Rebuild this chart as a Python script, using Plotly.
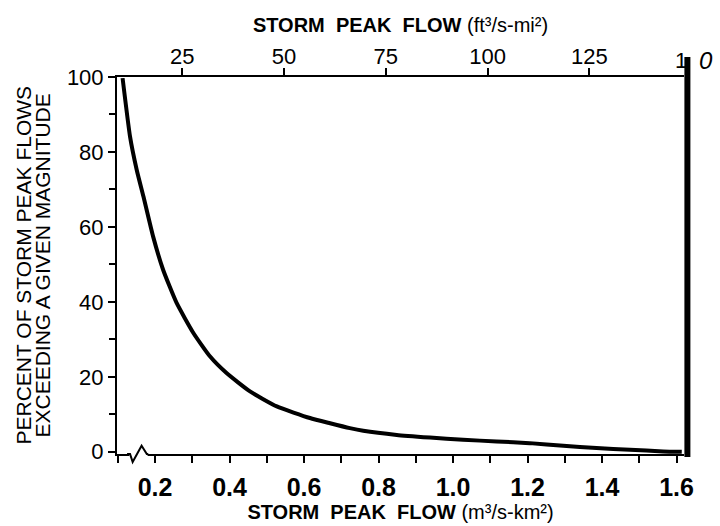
import plotly.graph_objects as go

# ---- data ----
flow_m3 = [0.113, 0.133, 0.151, 0.169, 0.195, 0.222, 0.258, 0.303, 0.348, 0.392,
           0.455, 0.527, 0.616, 0.670, 0.723, 0.759, 0.849, 0.938, 1.027, 1.117,
           1.206, 1.296, 1.385, 1.475, 1.564, 1.614]
percent = [99.7, 84.1, 75.2, 68.1, 57.4, 48.5, 39.7, 31.7, 25.4, 21.0,
           16.1, 12.1, 9.0, 7.6, 6.3, 5.6, 4.5, 3.8, 3.2, 2.75,
           2.3, 1.6, 1.0, 0.53, 0.1, 0.0]
bottom_ticks = [0.2, 0.4, 0.6, 0.8, 1.0, 1.2, 1.4, 1.6]
bottom_ticktext = ["0.2", "0.4", "0.6", "0.8", "1.0", "1.2", "1.4", "1.6"]
top_ticks = [25, 50, 75, 100, 125]
y_ticks = [0, 20, 40, 60, 80, 100]
CFSM_TO_M3KM2 = 0.010926  # 1 ft3/s-mi2 in m3/s-km2

FONT = "Liberation Sans, Arial, sans-serif"
NB = "\u00a0"

fig = go.Figure()
fig.add_trace(go.Scatter(
    x=flow_m3, y=percent, mode="lines",
    line=dict(color="black", width=4, shape="spline", smoothing=0.5),
    hoverinfo="skip", showlegend=False))
# same curve expressed in ft3/s-mi2 to carry the top axis (invisible)
fig.add_trace(go.Scatter(
    x=[v / CFSM_TO_M3KM2 for v in flow_m3], y=percent, xaxis="x2",
    mode="lines", line=dict(color="rgba(0,0,0,0)", width=0),
    hoverinfo="skip", showlegend=False))

x_range = [0.098, 1.620]
fig.update_layout(
    width=720, height=526,
    margin=dict(l=117, r=36, t=77, b=72, autoexpand=False),
    paper_bgcolor="white", plot_bgcolor="white",
    font=dict(family=FONT, color="black"),
    xaxis=dict(
        range=x_range, showgrid=False, zeroline=False, automargin=False,
        showline=True, linecolor="black", linewidth=2,
        tickmode="array", tickvals=bottom_ticks, ticktext=bottom_ticktext,
        ticks="outside", ticklen=7, tickwidth=2, tickcolor="black",
        minor=dict(dtick=0.1, tick0=0, ticks="outside", ticklen=7,
                   tickwidth=2, tickcolor="black"),
        tickfont=dict(size=25, family=FONT, weight="bold"),
        ticklabelstandoff=3,
        title=dict(text="<b>STORM" + NB + NB + "PEAK" + NB + NB + "FLOW</b> (m³/s-km²)",
                   font=dict(size=20, family=FONT), standoff=4),
    ),
    xaxis2=dict(
        overlaying="x", side="top", automargin=False,
        range=[x_range[0] / CFSM_TO_M3KM2, x_range[1] / CFSM_TO_M3KM2],
        showgrid=False, zeroline=False,
        showline=True, linecolor="black", linewidth=2,
        tickmode="array", tickvals=top_ticks,
        ticks="outside", ticklen=7, tickwidth=2, tickcolor="black",
        tickfont=dict(size=22, family=FONT),
        ticklabelstandoff=-5,
        title=dict(text="<b>STORM" + NB + NB + "PEAK" + NB + NB + "FLOW</b> (ft³/s-mi²)",
                   font=dict(size=20, family=FONT), standoff=6),
    ),
    yaxis=dict(
        range=[-0.6, 100], showgrid=False, zeroline=False, automargin=False,
        showline=True, linecolor="black", linewidth=2,
        tickmode="array", tickvals=y_ticks,
        ticks="outside", ticklen=7, tickwidth=2, tickcolor="black",
        minor=dict(dtick=10, tick0=0, ticks="outside", ticklen=6,
                   tickwidth=2, tickcolor="black"),
        tickfont=dict(size=22, family=FONT),
        ticklabelstandoff=0,
    ),
)

# y-axis title, two tightly spaced rotated lines
fig.add_annotation(text="PERCENT OF STORM PEAK FLOWS", xref="paper", yref="paper",
                   x=(23 - 117) / 567, y=0.50, xanchor="center", yanchor="middle",
                   textangle=-90, showarrow=False, font=dict(size=21, family=FONT))
fig.add_annotation(text="EXCEEDING A GIVEN MAGNITUDE", xref="paper", yref="paper",
                   x=(42 - 117) / 567, y=0.50, xanchor="center", yanchor="middle",
                   textangle=-90, showarrow=False, font=dict(size=21, family=FONT))

# partially hidden "150" label of the top axis
fig.add_annotation(text="1", xref="paper", yref="paper", x=0.994, y=1.045,
                   xanchor="center", yanchor="middle", showarrow=False,
                   font=dict(size=22, family=FONT))
fig.add_annotation(text="<i>0</i>", xref="paper", yref="paper", x=1.038, y=1.045,
                   xanchor="center", yanchor="middle", showarrow=False,
                   font=dict(size=24, family=FONT))

# thick bar at the right edge
fig.add_shape(type="line", xref="paper", yref="paper", x0=1.006, x1=1.006,
              y0=-0.008, y1=1.053, line=dict(color="black", width=6))

# axis break on the bottom axis
fig.add_shape(type="line", xref="x", yref="paper", x0=0.131, x1=0.180, y0=0, y1=0,
              line=dict(color="white", width=4))
fig.add_shape(type="path", xref="x", yref="paper",
              path="M 0.125 0 L 0.133 0 L 0.140 -0.021 L 0.164 0.022 L 0.178 0 L 0.182 0",
              line=dict(color="black", width=2))

fig.write_html("out.html", config={"displayModeBar": False},
               post_script="document.body.style.margin='0px';document.body.style.padding='0px';")
